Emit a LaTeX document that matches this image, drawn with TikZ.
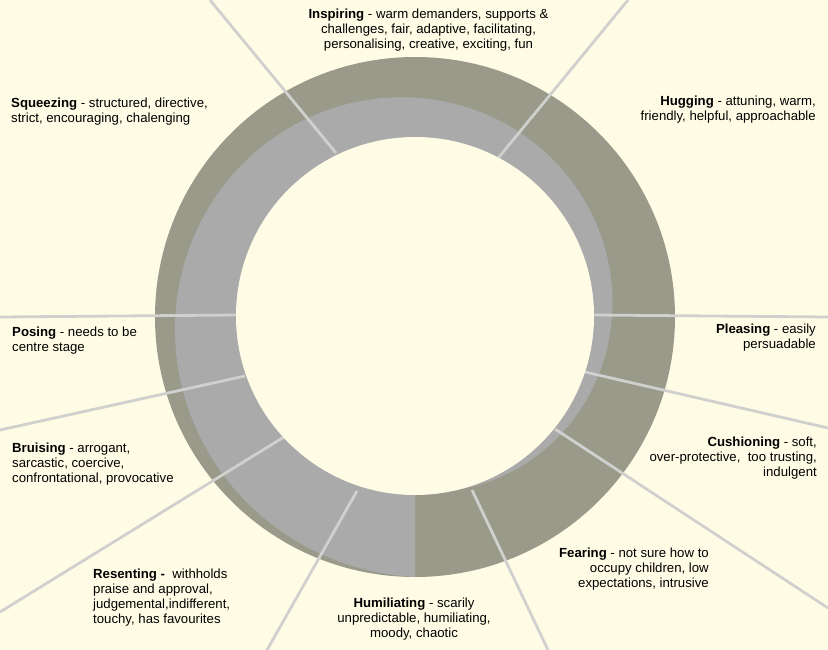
\documentclass[tikz,border=0pt]{standalone}
\usepackage{fontspec}
\setmainfont{Liberation Sans}
\definecolor{bgc}{RGB}{255,252,230}
\definecolor{ringolive}{RGB}{154,154,138}
\definecolor{ringgray}{RGB}{170,170,170}
\definecolor{spokec}{RGB}{208,208,206}
\tikzset{
  spokeline/.style={draw=spokec, line width=2.8pt},
  lab/.style={inner sep=0pt, font=\fontsize{13.2}{15}\selectfont, text=black},
}
\begin{document}
\begin{tikzpicture}[x=1pt,y=-1pt]
\fill[bgc] (0,0) rectangle (828,650);
\useasboundingbox (0,0) rectangle (828,650);
\coordinate (c) at (415,316);
% outer olive ring
\fill[ringolive] (415,317) circle[radius=260pt];
% gray spiral band
\fill[ringgray] (c) -- plot[domain=0:360,samples=181] ({415+(261-0.237*\x)*cos(90+\x)},{316+(261-0.237*\x)*sin(90+\x)}) -- cycle;
% spokes
\coordinate (s1o) at (210,0);   \coordinate (s1i) at (336,153);
\coordinate (s2o) at (628,0);   \coordinate (s2i) at (498.5,157.7);
\coordinate (s3o) at (828,317); \coordinate (s3i) at (594,315);
\coordinate (s4o) at (828,428); \coordinate (s4i) at (585,372);
\coordinate (s5o) at (828,608); \coordinate (s5i) at (555,429);
\coordinate (s6o) at (548,650); \coordinate (s6i) at (472,490);
\coordinate (s7o) at (267,650); \coordinate (s7i) at (357,491);
\coordinate (s8o) at (0,612);   \coordinate (s8i) at (284,437);
\coordinate (s9o) at (0,430);   \coordinate (s9i) at (245,376);
\coordinate (s10o) at (0,317);  \coordinate (s10i) at (237,315);
\foreach \i in {1,...,10} {\draw[spokeline] (s\i o) -- (s\i i);}
% inner cream disc
\fill[bgc] (c) circle[radius=179pt];
% labels
\node[lab, anchor=north, align=center] (inspiring) at (428.5,8.5)
  {\textbf{Inspiring} - warm demanders, supports \&\\challenges, fair, adaptive, facilitating,\\personalising, creative, exciting, fun};
\node[lab, anchor=north west, align=left] (squeezing) at (11,97.5)
  {\textbf{Squeezing} - structured, directive,\\strict, encouraging, chalenging};
\node[lab, anchor=north east, align=right] (hugging) at (816,95.5)
  {\textbf{Hugging} - attuning, warm,\\friendly, helpful, approachable};
\node[lab, anchor=north east, align=right] (pleasing) at (816,323.5)
  {\textbf{Pleasing} - easily\\persuadable};
\node[lab, anchor=north east, align=right] (cushioning) at (817,436.5)
  {\textbf{Cushioning} - soft,\\over-protective,\ \ too trusting,\\indulgent};
\node[lab, anchor=north east, align=right] (fearing) at (709,547.5)
  {\textbf{Fearing} - not sure how to\\occupy children, low\\expectations, intrusive};
\node[lab, anchor=north, align=center] (humiliating) at (414,597.5)
  {\textbf{Humiliating} - scarily\\unpredictable, humiliating,\\moody, chaotic};
\node[lab, anchor=north west, align=left] (resenting) at (93,568.5)
  {\textbf{Resenting -}\ \ withholds\\praise and approval,\\judgemental,indifferent,\\touchy, has favourites};
\node[lab, anchor=north west, align=left] (bruising) at (12,442.5)
  {\textbf{Bruising} - arrogant,\\sarcastic, coercive,\\confrontational, provocative};
\node[lab, anchor=north west, align=left] (posing) at (12,326.5)
  {\textbf{Posing} - needs to be\\centre stage};
\end{tikzpicture}
\end{document}
